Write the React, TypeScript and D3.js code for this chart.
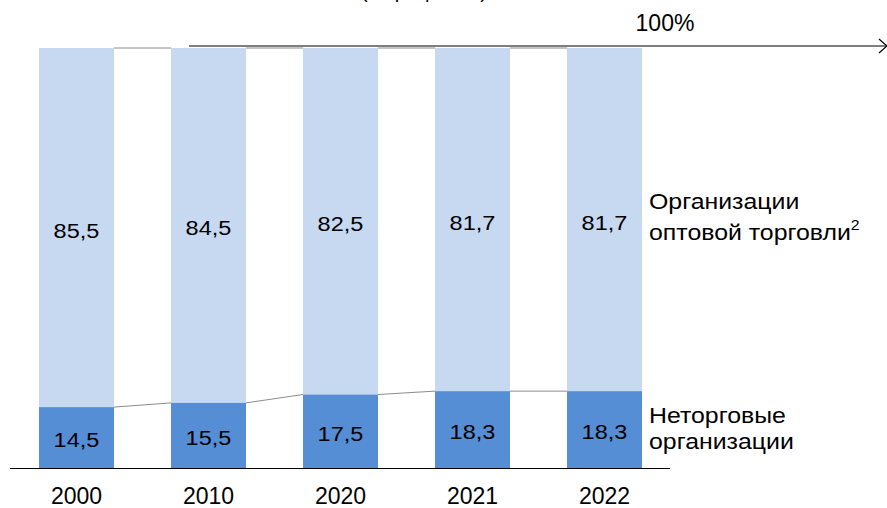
import React from 'react'
import * as d3 from 'd3'

const years = ['2000', '2010', '2020', '2021', '2022']
const nonTrade = [14.5, 15.5, 17.5, 18.3, 18.3]
const wholesale = [85.5, 84.5, 82.5, 81.7, 81.7]
const labelsLower = ['14,5', '15,5', '17,5', '18,3', '18,3']
const labelsUpper = ['85,5', '84,5', '82,5', '81,7', '81,7']

const W = 887, H = 508
const font = '"Liberation Sans", Arial, sans-serif'

// text slightly stretched horizontally like the source image
const Label = ({ x, y, text, size = 21, anchor = 'middle' }: any) => (
  <text transform={`translate(${x},${y}) scale(1.12,1)`} textAnchor={anchor} fontFamily={font} fontSize={size} fill="#000">{text}</text>
)

export default function App() {
  const x = d3.scaleBand().domain(years).range([39, 642]).paddingInner(57 / 132).paddingOuter(0)
  const y = d3.scaleLinear().domain([0, 100]).range([468, 48])
  const bw = x.bandwidth()

  const upperTop = (i: number) => y(nonTrade[i] + wholesale[i])
  const lowerTop = (i: number) => y(nonTrade[i])

  return (
    <svg width={W} height={H} style={{ position: 'absolute', left: 0, top: 0, background: '#fff' }}>
      <text x={424} y={-2} textAnchor="middle" fontFamily={font} fontSize={20} fill="#000">(в процентах)</text>
      {years.map((yr, i) => (
        <g key={yr}>
          <rect x={x(yr)} y={upperTop(i)} width={bw} height={lowerTop(i) - upperTop(i)} fill="#C6D9F1" />
          <rect x={x(yr)} y={lowerTop(i)} width={bw} height={y(0) - lowerTop(i)} fill="#558ED5" />
          <Label x={x(yr)! + bw / 2} y={(upperTop(i) + lowerTop(i)) / 2 + 10} text={labelsUpper[i]} />
          <Label x={x(yr)! + bw / 2} y={(y(0) + lowerTop(i)) / 2 + 9.5} text={labelsLower[i]} />
          <text x={x(yr)! + bw / 2} y={504} textAnchor="middle" fontFamily={font} fontSize={23}>{yr}</text>
        </g>
      ))}
      {years.slice(0, -1).map((yr, i) => (
        <g key={'c' + yr} stroke="#8c8c8c" strokeWidth={1}>
          <line x1={x(yr)! + bw} y1={upperTop(i)} x2={x(years[i + 1])} y2={upperTop(i + 1)} />
          <line x1={x(yr)! + bw} y1={lowerTop(i)} x2={x(years[i + 1])} y2={lowerTop(i + 1)} />
        </g>
      ))}
      <line x1={10} y1={468.5} x2={670} y2={468.5} stroke="#000" strokeWidth={1.2} />
      <line x1={189} y1={46} x2={886} y2={46} stroke="#000" strokeWidth={1.2} />
      <polyline points="879,39 887,46 879,53" fill="none" stroke="#000" strokeWidth={1.2} />
      <text x={665} y={31} textAnchor="middle" fontFamily={font} fontSize={23}>100%</text>
      <g transform="translate(649,0) scale(1.13,1)">
        <text fontFamily={font} fontSize={22}>
          <tspan x={0} y={209}>Организации</tspan>
          <tspan x={0} y={240}>оптовой торговли</tspan>
          <tspan dy={-10} fontSize={14}>2</tspan>
        </text>
        <text fontFamily={font} fontSize={22}>
          <tspan x={0} y={423}>Неторговые</tspan>
          <tspan x={0} y={449}>организации</tspan>
        </text>
      </g>
    </svg>
  )
}
